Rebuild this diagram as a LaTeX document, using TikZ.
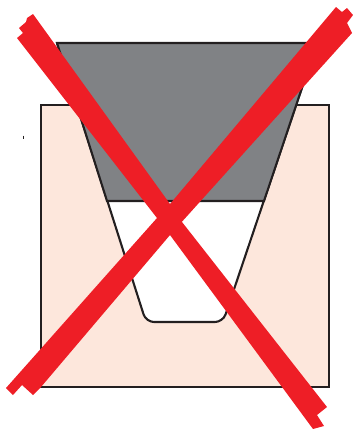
\documentclass[tikz,border=0pt]{standalone}
\usepackage{tikz}
\definecolor{wedgegray}{RGB}{128,130,133}
\definecolor{blockpink}{RGB}{253,231,220}
\definecolor{crossred}{RGB}{238,30,38}
\definecolor{inkblack}{RGB}{35,31,32}
\tikzset{outline/.style={draw=inkblack,line width=2.1pt,line join=miter},
  crossband/.style={fill=crossred,draw=none}}

\begin{document}
\begin{tikzpicture}[x=1pt,y=-1pt]
\useasboundingbox (0,0) rectangle (353,429);
% block with pocket
\draw[outline,fill=blockpink] (41,105) rectangle (329,387);
\draw[outline,fill=white,rounded corners=8pt] (57,43) -- (146,322) -- (223,322) -- (317,43);
% wedge
\draw[outline,fill=wedgegray] (57,43) -- (317,43) -- (264,201) -- (107,201) -- cycle;
\draw[inkblack,line width=0.6pt] (23,135.5) -- (23,138.5);
% cross
\fill[crossband] (33,14) -- (27,18) -- (26,22) -- (19,28) -- (23,33) -- (17,38) -- (157,218) -- (170,235) -- (313,429) -- (324,426) -- (317,415) -- (327,407) -- (182,222) -- (170,204) -- cycle;
\fill[crossband] (336,7) -- (342,12) -- (347,8) -- (353,15) -- (347,23) -- (352,33) -- (170,235) -- (41,387) -- (33,395) -- (22,385) -- (13,395) -- (6,388) -- (157,218) -- (170,204) -- cycle;
\end{tikzpicture}
\end{document}
